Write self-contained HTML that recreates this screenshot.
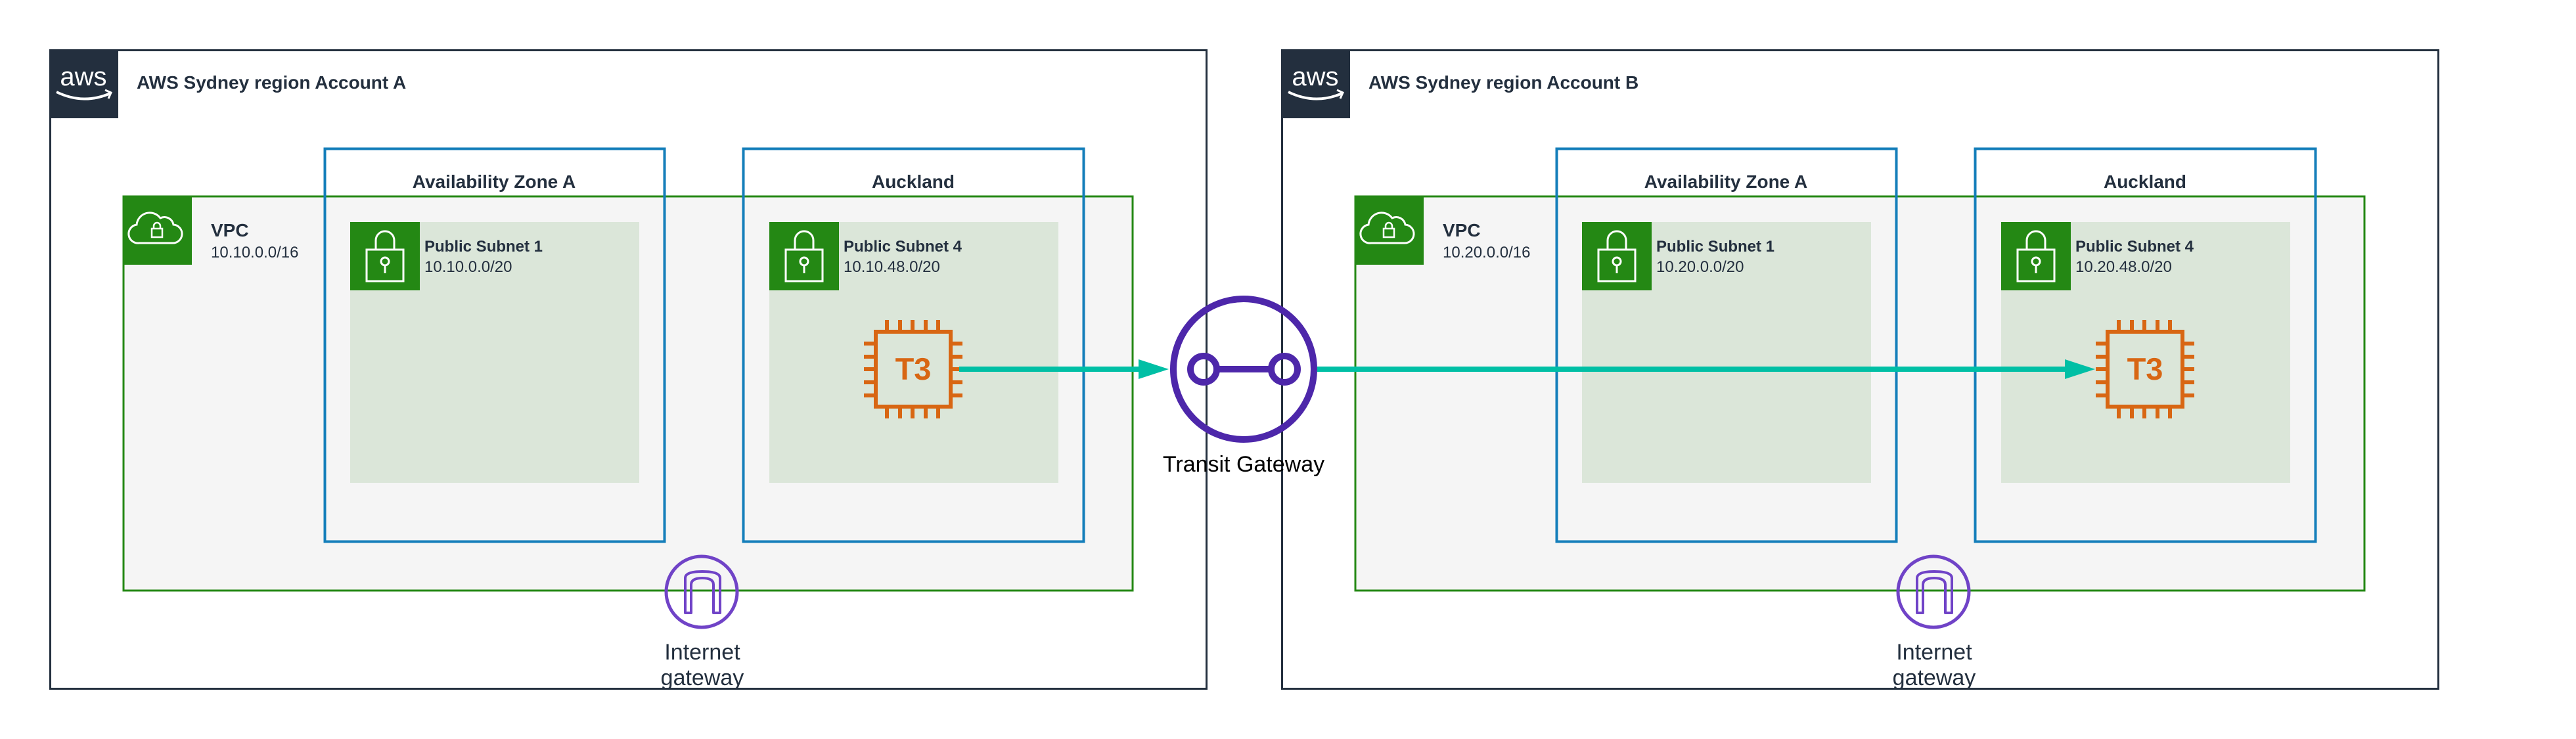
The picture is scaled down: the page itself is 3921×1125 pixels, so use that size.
<!DOCTYPE html>
<html><head><meta charset="utf-8"><style>
html,body{margin:0;padding:0;background:#fff;}
svg{display:block;}
text{font-family:"Liberation Sans",Arial,sans-serif;}
</style></head><body>
<svg width="3921" height="1125" viewBox="0 0 3921 1125" xmlns="http://www.w3.org/2000/svg">
<defs>
<g id="lock">
  <rect x="0" y="0" width="106" height="104" fill="#248814"/>
  <path d="M39 42 V28 A14 14 0 0 1 67 28 V42" fill="none" stroke="#fff" stroke-width="3"/>
  <rect x="25" y="42" width="56" height="48" fill="none" stroke="#fff" stroke-width="3"/>
  <circle cx="53" cy="60" r="6" fill="none" stroke="#fff" stroke-width="3"/>
  <line x1="53" y1="66" x2="53" y2="78" stroke="#fff" stroke-width="3"/>
</g>
<g id="chip">
  <rect x="1333" y="505" width="114" height="114" fill="none" stroke="#d86613" stroke-width="6"/>
  <g stroke="#d86613" stroke-width="6">
    <line x1="1350" y1="487" x2="1350" y2="502"/><line x1="1370" y1="487" x2="1370" y2="502"/><line x1="1389" y1="487" x2="1389" y2="502"/><line x1="1409" y1="487" x2="1409" y2="502"/><line x1="1428" y1="487" x2="1428" y2="502"/>
    <line x1="1350" y1="622" x2="1350" y2="637"/><line x1="1370" y1="622" x2="1370" y2="637"/><line x1="1389" y1="622" x2="1389" y2="637"/><line x1="1409" y1="622" x2="1409" y2="637"/><line x1="1428" y1="622" x2="1428" y2="637"/>
    <line x1="1315" y1="523" x2="1330" y2="523"/><line x1="1315" y1="543" x2="1330" y2="543"/><line x1="1315" y1="562" x2="1330" y2="562"/><line x1="1315" y1="582" x2="1330" y2="582"/><line x1="1315" y1="602" x2="1330" y2="602"/>
    <line x1="1450" y1="523" x2="1465" y2="523"/><line x1="1450" y1="543" x2="1465" y2="543"/><line x1="1450" y1="562" x2="1465" y2="562"/><line x1="1450" y1="582" x2="1465" y2="582"/><line x1="1450" y1="602" x2="1465" y2="602"/>
  </g>
  <text x="1390" y="578" font-size="47" font-weight="bold" fill="#d86613" text-anchor="middle">T3</text>
</g>
<g id="common">
  <rect x="76.5" y="76.5" width="1760" height="972" fill="#fff" stroke="#232f3e" stroke-width="3"/>
  <rect x="75" y="75" width="105" height="105" fill="#232f3e"/>
  <text x="127" y="130" font-size="40" fill="#fff" text-anchor="middle">aws</text>
  <path d="M86 140 Q127 160 168 142" fill="none" stroke="#fff" stroke-width="4"/>
  <path d="M160 137 L169 141 L165 150" fill="none" stroke="#fff" stroke-width="3"/>
  <rect x="188" y="299" width="1536" height="600" fill="#f5f5f5" stroke="#248814" stroke-width="3"/>
  <rect x="187" y="298" width="105" height="105" fill="#248814"/>
  <path d="M212 370 h50 a14 14 0 0 0 2 -28 a14 14 0 0 0 -20 -10 a20 20 0 0 0 -36 10 a14 14 0 0 0 4 28 z" fill="none" stroke="#fff" stroke-width="3"/>
  <rect x="231" y="348" width="16" height="13" fill="none" stroke="#fff" stroke-width="2.5"/>
  <path d="M234 348 v-4 a5 5 0 0 1 10 0 v4" fill="none" stroke="#fff" stroke-width="2.5"/>
  <text x="321" y="360" font-size="28" font-weight="bold" fill="#232f3e">VPC</text>
  <rect x="494.5" y="226.5" width="517" height="598" fill="none" stroke="#147eba" stroke-width="4"/>
  <rect x="1131.5" y="226.5" width="518" height="598" fill="none" stroke="#147eba" stroke-width="4"/>
  <rect x="533" y="338" width="440" height="397" fill="#dbe6d9"/>
  <rect x="1171" y="338" width="440" height="397" fill="#dbe6d9"/>
  <use href="#lock" x="533" y="338"/>
  <use href="#lock" x="1171" y="338"/>
  <text x="752" y="286" font-size="28" font-weight="bold" fill="#232f3e" text-anchor="middle">Availability Zone A</text>
  <text x="1390" y="286" font-size="28" font-weight="bold" fill="#232f3e" text-anchor="middle">Auckland</text>
  <text x="646" y="383" font-size="24" font-weight="bold" fill="#232f3e">Public Subnet 1</text>
  <text x="1284" y="383" font-size="24" font-weight="bold" fill="#232f3e">Public Subnet 4</text>
  <use href="#chip"/>
  <circle cx="1068" cy="901" r="54" fill="none" stroke="#7043c7" stroke-width="5"/>
  <path d="M1043 933 V880 Q1043 870 1069 870 Q1096 870 1096 880 V933 H1086 V890 Q1086 880 1069 880 Q1052 880 1052 890 V933 Z" fill="none" stroke="#7043c7" stroke-width="4" stroke-linejoin="round"/>
  <text x="1069" y="1004" font-size="34" fill="#232f3e" text-anchor="middle">Internet</text>
  <text x="1069" y="1043" font-size="34" fill="#232f3e" text-anchor="middle">gateway</text>
</g>
</defs>
<use href="#common"/>
<text x="208" y="135" font-size="28" font-weight="bold" fill="#232f3e">AWS Sydney region Account A</text>
<text x="321" y="392" font-size="24" fill="#232f3e">10.10.0.0/16</text>
<text x="646" y="414" font-size="24" fill="#232f3e">10.10.0.0/20</text>
<text x="1284" y="414" font-size="24" fill="#232f3e">10.10.48.0/20</text>
<g transform="translate(1875,0)">
  <use href="#common"/>
  <text x="208" y="135" font-size="28" font-weight="bold" fill="#232f3e">AWS Sydney region Account B</text>
  <text x="321" y="392" font-size="24" fill="#232f3e">10.20.0.0/16</text>
  <text x="646" y="414" font-size="24" fill="#232f3e">10.20.0.0/20</text>
  <text x="1284" y="414" font-size="24" fill="#232f3e">10.20.48.0/20</text>
</g>
<line x1="1460" y1="562" x2="1740" y2="562" stroke="#00bfa5" stroke-width="8"/>
<path d="M1733 547 L1779 562 L1733 577 Z" fill="#00bfa5"/>
<line x1="2005" y1="562" x2="3150" y2="562" stroke="#00bfa5" stroke-width="8"/>
<path d="M3143 547 L3189 562 L3143 577 Z" fill="#00bfa5"/>
<circle cx="1893" cy="562" r="107" fill="none" stroke="#4d27aa" stroke-width="10"/>
<circle cx="1832" cy="562" r="20" fill="none" stroke="#4d27aa" stroke-width="10"/>
<circle cx="1955" cy="562" r="20" fill="none" stroke="#4d27aa" stroke-width="10"/>
<line x1="1852" y1="562" x2="1935" y2="562" stroke="#4d27aa" stroke-width="10"/>
<text x="1893" y="718" font-size="34" fill="#000" text-anchor="middle">Transit Gateway</text>
</svg>
</body></html>
